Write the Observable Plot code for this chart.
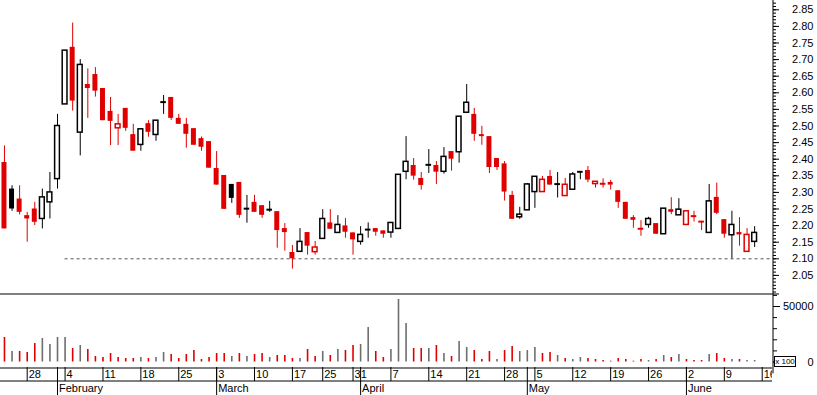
<!DOCTYPE html>
<html>
<head>
<meta charset="utf-8">
<script src="https://cdn.jsdelivr.net/npm/d3@7"></script>
<script src="https://cdn.jsdelivr.net/npm/@observablehq/plot@0.6"></script>
<style>
  body { margin: 0; background: #fff; }
  #chart { position: relative; width: 817px; height: 395px; overflow: hidden; background: #fff;
           font-family: "Liberation Sans", Arial, sans-serif; }
  #chart svg { display: block; overflow: visible; }
  #unit { position: absolute; left: 774px; top: 356px; width: 20px; height: 9px; border: 1px solid #000;
          font-size: 8px; line-height: 9px; text-align: center; color: #000; background: #fff; white-space: nowrap; }
</style>
</head>
<body>
<div id="chart"></div>
<script>
// ---------- data ----------
const firstDay = "2008-01-23";
const lastDay = "2008-06-16";
const holidays = ["2008-03-21", "2008-03-24", "2008-05-01"];

const openP = [
  2.39, 2.31, 2.28, 2.23, 2.25, 2.22, 2.27, 2.34, 2.565, 2.737,
  2.48, 2.625, 2.655, 2.613, 2.544, 2.493, 2.553, 2.474, 2.443, 2.507,
  2.473, 2.572, 2.586, 2.523, 2.505, 2.492, 2.462, 2.453, 2.372, 2.351,
  2.324, 2.33, 2.251, 2.27, 2.26, 2.248, 2.242, 2.191, 2.119, 2.121,
  2.179, 2.12, 2.16, 2.208, 2.178, 2.199, 2.178, 2.151, 2.188, 2.191,
  2.184, 2.179, 2.19, 2.362, 2.381, 2.342, 2.383, 2.381, 2.362, 2.423,
  2.421, 2.54, 2.535, 2.474, 2.468, 2.402, 2.386, 2.291, 2.225, 2.246,
  2.301, 2.301, 2.348, 2.325, 2.289, 2.308, 2.362, 2.366, 2.325, 2.327,
  2.33, 2.305, 2.27, 2.224, 2.191, 2.202, 2.206, 2.174, 2.248, 2.231,
  2.202, 2.229, 2.212, 2.178, 2.285, 2.218, 2.171, 2.179, 2.121, 2.151
];
const highP = [
  2.44, 2.32, 2.32, 2.24, 2.27, 2.31, 2.36, 2.535, 2.727, 2.81,
  2.70, 2.672, 2.676, 2.613, 2.586, 2.535, 2.553, 2.505, 2.492, 2.516,
  2.516, 2.592, 2.586, 2.535, 2.523, 2.492, 2.467, 2.453, 2.423, 2.351,
  2.324, 2.33, 2.291, 2.291, 2.26, 2.273, 2.242, 2.206, 2.14, 2.191,
  2.179, 2.152, 2.248, 2.248, 2.23, 2.221, 2.178, 2.197, 2.208, 2.191,
  2.184, 2.208, 2.353, 2.468, 2.402, 2.36, 2.429, 2.393, 2.435, 2.423,
  2.528, 2.625, 2.553, 2.499, 2.468, 2.402, 2.393, 2.303, 2.255, 2.327,
  2.347, 2.348, 2.366, 2.36, 2.342, 2.36, 2.362, 2.378, 2.332, 2.341,
  2.336, 2.305, 2.27, 2.23, 2.215, 2.225, 2.206, 2.251, 2.284, 2.281,
  2.243, 2.243, 2.212, 2.324, 2.328, 2.218, 2.243, 2.224, 2.191, 2.197
];
const lowP = [
  2.19, 2.243, 2.232, 2.15, 2.20, 2.19, 2.22, 2.31, 2.565, 2.545,
  2.41, 2.523, 2.587, 2.516, 2.441, 2.441, 2.484, 2.424, 2.424, 2.466,
  2.454, 2.535, 2.517, 2.505, 2.433, 2.442, 2.424, 2.373, 2.322, 2.249,
  2.267, 2.222, 2.207, 2.24, 2.222, 2.24, 2.132, 2.123, 2.069, 2.121,
  2.111, 2.111, 2.16, 2.189, 2.178, 2.162, 2.111, 2.141, 2.162, 2.168,
  2.162, 2.162, 2.19, 2.338, 2.337, 2.307, 2.357, 2.324, 2.355, 2.364,
  2.388, 2.54, 2.454, 2.442, 2.357, 2.366, 2.274, 2.219, 2.219, 2.246,
  2.252, 2.301, 2.322, 2.283, 2.289, 2.308, 2.338, 2.329, 2.313, 2.313,
  2.307, 2.252, 2.219, 2.192, 2.168, 2.192, 2.174, 2.174, 2.233, 2.231,
  2.202, 2.211, 2.185, 2.178, 2.233, 2.162, 2.10, 2.138, 2.121, 2.134
];
const closeP = [
  2.19, 2.25, 2.24, 2.22, 2.21, 2.285, 2.30, 2.50, 2.727, 2.575,
  2.684, 2.613, 2.605, 2.516, 2.514, 2.505, 2.493, 2.424, 2.49, 2.481,
  2.516, 2.572, 2.523, 2.505, 2.475, 2.442, 2.436, 2.373, 2.322, 2.249,
  2.282, 2.231, 2.251, 2.24, 2.231, 2.248, 2.185, 2.179, 2.10, 2.151,
  2.138, 2.134, 2.22, 2.189, 2.202, 2.18, 2.157, 2.172, 2.188, 2.18,
  2.174, 2.208, 2.353, 2.392, 2.349, 2.321, 2.383, 2.361, 2.407, 2.40,
  2.528, 2.57, 2.475, 2.468, 2.375, 2.375, 2.301, 2.219, 2.233, 2.324,
  2.347, 2.338, 2.322, 2.325, 2.323, 2.354, 2.362, 2.337, 2.332, 2.325,
  2.322, 2.27, 2.219, 2.216, 2.19, 2.22, 2.174, 2.251, 2.24, 2.248,
  2.243, 2.228, 2.212, 2.273, 2.237, 2.174, 2.202, 2.172, 2.172, 2.178
];
// volume in units of 100 shares (axis reads "x 100")
const volume = [
  22070, 9460, 9460, 8560, 16670, 21170, 15770, 22070, 22070, 12160,
  14860, 11260, 4950, 4050, 7660, 4050, 3150, 3150, 4050, 3150,
  4050, 8560, 6760, 3150, 6760, 10360, 2250, 4050, 7660, 7660,
  4950, 7660, 4950, 6760, 7660, 4050, 5860, 5860, 3150, 3150,
  11260, 4950, 9460, 5860, 11260, 10360, 14860, 15770, 31080, 9460,
  4050, 11260, 56310, 34680, 12160, 12160, 12160, 14860, 7660, 4950,
  18470, 13060, 10360, 2250, 9460, 2250, 10360, 13960, 9460, 10360,
  13060, 7660, 8560, 5860, 3150, 2250, 4050, 3150, 2250, 1350,
  720, 3150, 2250, 720, 2250, 1350, 2250, 5860, 4050, 6760,
  2250, 1350, 1350, 6760, 7660, 3150, 2250, 2250, 1350, 1350
];

const dayTickDates = ["2008-01-28", "2008-02-04", "2008-02-11", "2008-02-18", "2008-02-25",
  "2008-03-03", "2008-03-10", "2008-03-17", "2008-03-25", "2008-03-31", "2008-04-07",
  "2008-04-14", "2008-04-21", "2008-04-28", "2008-05-05", "2008-05-12", "2008-05-19",
  "2008-05-26", "2008-06-02", "2008-06-09", "2008-06-16"];
const dayTickLabels = ["28", "4", "11", "18", "25", "3", "10", "17", "25", "31", "7",
  "14", "21", "28", "5", "12", "19", "26", "2", "9", "16"];
const monthTickDates = ["2008-02-01", "2008-03-03", "2008-04-01", "2008-05-02", "2008-06-02"];
const monthTickLabels = ["February", "March", "April", "May", "June"];

const priceTicks = [2.05, 2.10, 2.15, 2.20, 2.25, 2.30, 2.35, 2.40, 2.45, 2.50, 2.55, 2.60, 2.65, 2.70, 2.75, 2.80, 2.85];
const volumeTicks = [0, 50000];
const volumeUnit = "x 100";
const supportLevel = 2.10;
const supportFrom = "2008-02-04";

// ---------- build ----------
const RED = "#e00000", BLACK = "#000000", GRAY = "#6e6e6e";
const parse = d3.utcParse("%Y-%m-%d"), fmt = d3.utcFormat("%Y-%m-%d");
const calendar = d3.utcDay.range(parse(firstDay), d3.utcDay.offset(parse(lastDay), 1))
  .filter(d => d.getUTCDay() % 6 !== 0 && !holidays.includes(fmt(d)))
  .map(fmt);
const idx = s => calendar.indexOf(s);

const candles = openP.map((o, i) => {
  const c = closeP[i];
  const ref = i ? closeP[i - 1] : o;
  return {
    i, date: calendar[i], open: o, high: highP[i], low: lowP[i], close: c, volume: volume[i],
    color: c <= ref ? RED : BLACK,
    volColor: c < ref ? RED : GRAY,
    hollow: c > o,
    doji: Math.abs(c - o) < 0.004
  };
});
const dayTicks = dayTickDates.map((d, k) => ({i: idx(d), label: dayTickLabels[k]}));
const monthTicks = monthTickDates.map((d, k) => ({i: idx(d), label: monthTickLabels[k]}));

const xDomain = [-0.5237, 101.357];
const priceDomain = [1.99548, 2.87801];
const volDomain = [-4955, 61712];
const minorPrice = d3.range(200, 288).map(v => v / 100);
const minorVol = d3.range(0, 60001, 10000);

const common = {
  width: 817, marginLeft: 0, marginRight: 45, marginTop: 0, marginBottom: 0,
  color: {type: "identity"},
  style: {fontFamily: "'Liberation Sans', Arial, sans-serif", fontSize: "11px", background: "white", overflow: "visible", color: "black"}
};
const half = 0.5;

const pricePlot = Plot.plot({
  ...common,
  height: 293,
  x: {domain: xDomain, axis: null, label: null},
  y: {domain: priceDomain, axis: null, label: null},
  marks: [
    Plot.ruleY([supportLevel], {x1: idx(supportFrom), x2: xDomain[1], stroke: "#555", strokeWidth: 1, strokeDasharray: "3,3"}),
    Plot.ruleX(candles, {x: "i", y1: "low", y2: "high", stroke: "color", strokeWidth: 1}),
    Plot.rect(candles.filter(d => !d.doji && !d.hollow), {
      x1: d => d.i - half, x2: d => d.i + half, y1: "open", y2: "close",
      fill: "color", insetLeft: 1.3, insetRight: 1.3
    }),
    Plot.rect(candles.filter(d => !d.doji && d.hollow), {
      x1: d => d.i - half, x2: d => d.i + half, y1: "open", y2: "close",
      fill: "white", stroke: "color", strokeWidth: 1.5, insetLeft: 1.4, insetRight: 1.4
    }),
    Plot.ruleY(candles.filter(d => d.doji), {
      y: d => (d.open + d.close) / 2, x1: d => d.i - half, x2: d => d.i + half,
      stroke: "color", strokeWidth: 2, insetLeft: 1, insetRight: 1
    }),
    Plot.axisY({ticks: minorPrice, anchor: "right", tickSize: 3, tickFormat: () => "", label: null}),
    Plot.axisY({ticks: priceTicks, anchor: "right", tickSize: 6, tickPadding: 35, textAnchor: "end", tickFormat: ".2f", label: null}),
    Plot.ruleX([xDomain[1]], {dx: 0.5, stroke: "black"})
  ]
});

const volPlot = Plot.plot({
  ...common,
  height: 74,
  x: {domain: xDomain, axis: null, label: null},
  y: {domain: volDomain, axis: null, label: null},
  marks: [
    Plot.ruleX(candles, {x: "i", y1: 0, y2: "volume", stroke: "volColor", strokeWidth: 1.6}),
    Plot.axisY({ticks: minorVol, anchor: "right", tickSize: 4, tickFormat: () => "", label: null}),
    Plot.axisY({ticks: volumeTicks, anchor: "right", tickSize: 7, tickPadding: 34, textAnchor: "end", tickFormat: "d", label: null}),
    Plot.ruleX([xDomain[1]], {dx: 0.5, stroke: "black"}),
    Plot.ruleY([volDomain[1]], {dy: 0.5, stroke: "black", insetRight: -7})
  ]
});

const axisPlot = Plot.plot({
  ...common,
  height: 28,
  x: {domain: xDomain, axis: null, label: null},
  y: {domain: [0, 2], range: [0, 28], axis: null, label: null},
  marks: [
    Plot.ruleY([0], {dy: 0.5, stroke: "black"}),
    Plot.ruleY([1], {dy: -0.5, stroke: "black"}),
    Plot.ruleX(dayTicks, {x: "i", y1: 0, y2: 1, stroke: "black"}),
    Plot.ruleX(monthTicks, {x: "i", y1: 0, y2: 2, stroke: "black"}),
    Plot.text(dayTicks, {x: "i", y: 0.5, text: "label", textAnchor: "start", dx: 1.5, fill: "black", clip: true}),
    Plot.text(monthTicks, {x: "i", y: 1.5, text: "label", textAnchor: "start", dx: 1.5, fill: "black"}),
    Plot.ruleX([xDomain[1]], {dx: 0.5, y1: 0, y2: 0.45, stroke: "black"})
  ]
});

const chart = document.getElementById("chart");
chart.append(pricePlot, volPlot, axisPlot);
const unit = document.createElement("div");
unit.id = "unit";
unit.textContent = volumeUnit;
chart.append(unit);
</script>
</body>
</html>
